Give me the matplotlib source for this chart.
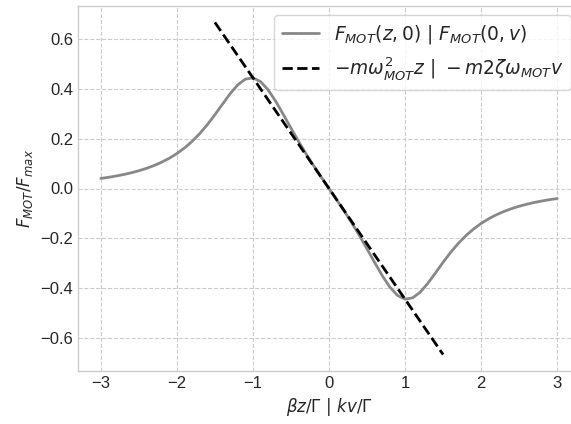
import matplotlib
matplotlib.use("Agg")
import matplotlib.pyplot as plt

# Data
x_curve = [-3.0, -2.9, -2.8, -2.7, -2.6, -2.5, -2.4, -2.3, -2.2, -2.1,
           -2.0, -1.9, -1.8, -1.7, -1.6, -1.5, -1.4, -1.3, -1.2, -1.1,
           -1.0, -0.9, -0.8, -0.7, -0.6, -0.5, -0.4, -0.3, -0.2, -0.1,
           0.0, 0.1, 0.2, 0.3, 0.4, 0.5, 0.6, 0.7, 0.8, 0.9,
           1.0, 1.1, 1.2, 1.3, 1.4, 1.5, 1.6, 1.7, 1.8, 1.9,
           2.0, 2.1, 2.2, 2.3, 2.4, 2.5, 2.6, 2.7, 2.8, 2.9, 3.0]
f_mot = [0.0404, 0.0449, 0.0501, 0.0561, 0.0631, 0.0713, 0.0809, 0.0922, 0.1056, 0.1215,
         0.1404, 0.1628, 0.1893, 0.2204, 0.2563, 0.2963, 0.3389, 0.3806, 0.4162, 0.4393,
         0.4444, 0.4293, 0.3961, 0.3500, 0.2971, 0.2424, 0.1890, 0.1384, 0.0905, 0.0447,
         0.0, -0.0447, -0.0905, -0.1384, -0.1890, -0.2424, -0.2971, -0.3500, -0.3961, -0.4293,
         -0.4444, -0.4393, -0.4162, -0.3806, -0.3389, -0.2963, -0.2563, -0.2204, -0.1893, -0.1628,
         -0.1404, -0.1215, -0.1056, -0.0922, -0.0809, -0.0713, -0.0631, -0.0561, -0.0501, -0.0449, -0.0404]
x_lin = [-1.5, 1.5]
f_lin = [0.667, -0.667]

xticks = [-3, -2, -1, 0, 1, 2, 3]
yticks = [-0.6, -0.4, -0.2, 0.0, 0.2, 0.4, 0.6]

plt.style.use("seaborn-v0_8-whitegrid")
plt.rcParams['font.family'] = ['Liberation Sans', 'DejaVu Sans']
plt.rcParams['font.size'] = 12
plt.rcParams['grid.linestyle'] = '--'

fig = plt.figure(figsize=(5.71, 4.24), dpi=100)
ax = fig.add_axes([78/571, 53/424, (580-78)/571, 365/424])

ax.plot(x_curve, f_mot, color='#888888', lw=2,
        label=r'$F_{MOT}(z,0)\ |\ F_{MOT}(0,v)$')
ax.plot(x_lin, f_lin, color='black', lw=2, ls='--',
        label=r'$-m\omega_{MOT}^2 z\ |\ -m2\zeta\omega_{MOT}v$')

ax.set_xlim(-3.3, 3.3)
ax.set_ylim(-0.733, 0.733)
ax.set_xticks(xticks)
ax.set_yticks(yticks)
ax.tick_params(labelsize=12)
ax.spines['right'].set_visible(False)
ax.set_xlabel(r'$\beta z/\Gamma\ |\ kv/\Gamma$', fontsize=12)
ax.set_ylabel(r'$F_{MOT}/F_{max}$', fontsize=12)
ax.legend(loc='upper right', fontsize=13.4, frameon=True)

fig.savefig("out.png", dpi=100)
